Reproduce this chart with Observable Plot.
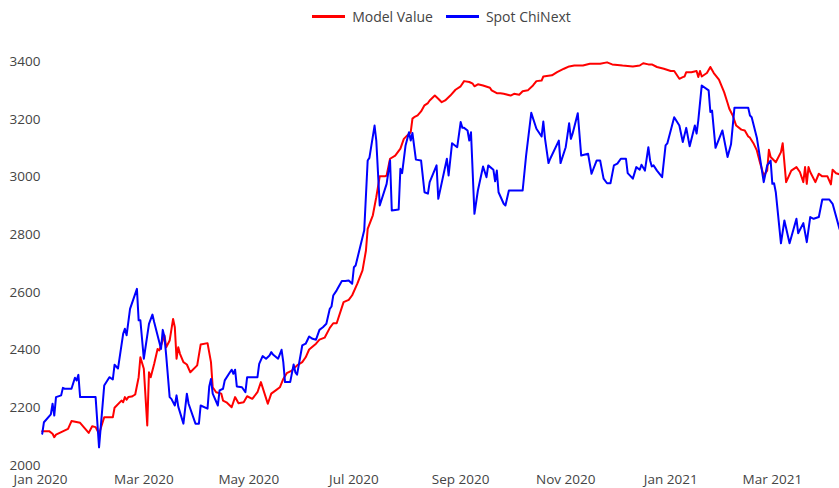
<!DOCTYPE html>
<html><head><meta charset="utf-8">
<script src="https://cdn.jsdelivr.net/npm/d3@7"></script>
<script src="https://cdn.jsdelivr.net/npm/@observablehq/plot@0.6"></script>
<style>
body{margin:0;background:#fff;font-family:"Open Sans",sans-serif;}
#legend{box-sizing:border-box;height:32px;width:839px;padding-left:44px;display:flex;justify-content:center;align-items:center;font-size:14px;color:#444;}
.item{display:flex;align-items:center;margin:0 6.5px;}
.swatch{width:33px;height:3px;margin-right:7px;}
</style></head><body>
<div id="legend"></div>
<div id="chart"></div>
<script>
const seriesNames = ["Model Value", "Spot ChiNext"];
const seriesColors = ["#ff0000", "#0000ff"];
const xTickDates = ["2020-01-01","2020-03-01","2020-05-01","2020-07-01","2020-09-01","2020-11-01","2021-01-01","2021-03-01"];
const yTicks = [2000,2200,2400,2600,2800,3000,3200,3400];

const modelDates = ["2020-01-02","2020-01-06","2020-01-08","2020-01-09","2020-01-10","2020-01-17","2020-01-19","2020-01-24","2020-01-27","2020-01-29","2020-01-31","2020-02-02","2020-02-04","2020-02-07","2020-02-12","2020-02-13","2020-02-17","2020-02-18","2020-02-19","2020-02-20","2020-02-21","2020-02-23","2020-02-25","2020-02-27","2020-02-28","2020-03-01","2020-03-03","2020-03-04","2020-03-05","2020-03-07","2020-03-09","2020-03-10","2020-03-13","2020-03-14","2020-03-16","2020-03-18","2020-03-19","2020-03-20","2020-03-21","2020-03-22","2020-03-24","2020-03-26","2020-03-28","2020-04-01","2020-04-03","2020-04-07","2020-04-09","2020-04-10","2020-04-12","2020-04-15","2020-04-16","2020-04-18","2020-04-21","2020-04-23","2020-04-25","2020-04-28","2020-04-30","2020-05-03","2020-05-06","2020-05-08","2020-05-12","2020-05-14","2020-05-17","2020-05-19","2020-05-21","2020-05-23","2020-05-26","2020-05-29","2020-06-01","2020-06-03","2020-06-05","2020-06-09","2020-06-11","2020-06-14","2020-06-17","2020-06-19","2020-06-21","2020-06-25","2020-06-28","2020-06-30","2020-07-03","2020-07-06","2020-07-08","2020-07-09","2020-07-12","2020-07-14","2020-07-16","2020-07-19","2020-07-20","2020-07-22","2020-07-25","2020-07-28","2020-07-30","2020-08-01","2020-08-03","2020-08-04","2020-08-05","2020-08-07","2020-08-09","2020-08-11","2020-08-13","2020-08-14","2020-08-17","2020-08-19","2020-08-21","2020-08-23","2020-08-26","2020-08-29","2020-09-01","2020-09-03","2020-09-06","2020-09-08","2020-09-09","2020-09-11","2020-09-14","2020-09-18","2020-09-19","2020-09-22","2020-09-24","2020-09-26","2020-09-30","2020-10-02","2020-10-05","2020-10-07","2020-10-10","2020-10-13","2020-10-15","2020-10-18","2020-10-19","2020-10-24","2020-10-27","2020-10-31","2020-11-03","2020-11-06","2020-11-11","2020-11-15","2020-11-21","2020-11-25","2020-11-28","2020-12-04","2020-12-10","2020-12-14","2020-12-16","2020-12-19","2020-12-21","2020-12-24","2020-12-28","2021-01-01","2021-01-03","2021-01-06","2021-01-08","2021-01-09","2021-01-10","2021-01-13","2021-01-16","2021-01-17","2021-01-18","2021-01-19","2021-01-22","2021-01-24","2021-01-26","2021-01-29","2021-02-01","2021-02-03","2021-02-04","2021-02-06","2021-02-08","2021-02-11","2021-02-13","2021-02-15","2021-02-16","2021-02-18","2021-02-20","2021-02-22","2021-02-24","2021-02-26","2021-02-27","2021-02-28","2021-03-03","2021-03-06","2021-03-07","2021-03-09","2021-03-12","2021-03-15","2021-03-17","2021-03-19","2021-03-20","2021-03-21","2021-03-22","2021-03-23","2021-03-26","2021-03-28","2021-03-30","2021-04-02","2021-04-04","2021-04-05","2021-04-07","2021-04-09"];
const modelValues = [2119,2119,2110,2098,2107,2127,2154,2148,2127,2113,2136,2133,2110,2167,2167,2200,2225,2219,2237,2228,2237,2239,2246,2306,2375,2335,2139,2323,2306,2352,2404,2399,2451,2410,2433,2508,2479,2370,2410,2387,2358,2350,2323,2347,2419,2424,2358,2271,2254,2249,2225,2219,2202,2237,2216,2219,2240,2231,2254,2289,2214,2249,2262,2271,2300,2320,2329,2347,2358,2375,2402,2422,2436,2443,2477,2493,2493,2566,2574,2590,2630,2676,2745,2820,2867,2930,3002,3002,3005,3063,3074,3098,3132,3144,3155,3202,3207,3213,3227,3248,3256,3265,3282,3271,3259,3265,3282,3302,3314,3332,3329,3323,3314,3321,3317,3309,3300,3290,3290,3288,3282,3288,3285,3297,3300,3317,3332,3334,3348,3352,3363,3375,3383,3386,3386,3392,3392,3397,3390,3386,3383,3386,3394,3390,3390,3381,3375,3367,3367,3340,3346,3348,3363,3363,3367,3346,3367,3348,3360,3381,3360,3337,3294,3256,3236,3213,3178,3164,3161,3140,3136,3117,3092,3046,3005,3022,3094,3069,3051,3086,3117,2982,3022,3034,3017,2982,3034,2976,3034,3017,2982,3011,3002,3002,2974,3025,3013,3009];

const spotDates = ["2020-01-02","2020-01-03","2020-01-07","2020-01-08","2020-01-09","2020-01-10","2020-01-13","2020-01-14","2020-01-15","2020-01-19","2020-01-21","2020-01-22","2020-01-23","2020-01-24","2020-02-02","2020-02-04","2020-02-07","2020-02-10","2020-02-12","2020-02-13","2020-02-15","2020-02-18","2020-02-19","2020-02-20","2020-02-22","2020-02-26","2020-02-27","2020-02-28","2020-03-01","2020-03-04","2020-03-06","2020-03-07","2020-03-11","2020-03-12","2020-03-13","2020-03-14","2020-03-16","2020-03-17","2020-03-19","2020-03-20","2020-03-21","2020-03-24","2020-03-26","2020-03-27","2020-03-31","2020-04-02","2020-04-03","2020-04-07","2020-04-08","2020-04-09","2020-04-10","2020-04-13","2020-04-14","2020-04-16","2020-04-17","2020-04-20","2020-04-21","2020-04-22","2020-04-23","2020-04-24","2020-04-27","2020-04-29","2020-04-30","2020-05-06","2020-05-07","2020-05-09","2020-05-11","2020-05-13","2020-05-14","2020-05-15","2020-05-18","2020-05-20","2020-05-21","2020-05-22","2020-05-25","2020-05-27","2020-05-28","2020-05-29","2020-06-01","2020-06-03","2020-06-05","2020-06-07","2020-06-09","2020-06-11","2020-06-13","2020-06-15","2020-06-17","2020-06-18","2020-06-19","2020-06-21","2020-06-24","2020-06-26","2020-06-28","2020-06-30","2020-07-01","2020-07-02","2020-07-07","2020-07-09","2020-07-10","2020-07-13","2020-07-14","2020-07-16","2020-07-20","2020-07-22","2020-07-23","2020-07-27","2020-07-28","2020-07-29","2020-07-31","2020-08-02","2020-08-03","2020-08-04","2020-08-06","2020-08-09","2020-08-11","2020-08-13","2020-08-14","2020-08-18","2020-08-19","2020-08-24","2020-08-25","2020-08-27","2020-08-30","2020-09-01","2020-09-02","2020-09-03","2020-09-05","2020-09-06","2020-09-07","2020-09-09","2020-09-11","2020-09-14","2020-09-16","2020-09-17","2020-09-20","2020-09-21","2020-09-22","2020-09-23","2020-09-26","2020-09-27","2020-09-29","2020-10-07","2020-10-09","2020-10-12","2020-10-15","2020-10-18","2020-10-19","2020-10-20","2020-10-22","2020-10-23","2020-10-28","2020-10-29","2020-11-01","2020-11-02","2020-11-03","2020-11-04","2020-11-05","2020-11-08","2020-11-10","2020-11-14","2020-11-16","2020-11-19","2020-11-21","2020-11-23","2020-11-25","2020-11-27","2020-11-29","2020-12-01","2020-12-03","2020-12-06","2020-12-07","2020-12-10","2020-12-12","2020-12-14","2020-12-15","2020-12-17","2020-12-19","2020-12-20","2020-12-21","2020-12-22","2020-12-24","2020-12-27","2020-12-29","2020-12-30","2021-01-03","2021-01-06","2021-01-08","2021-01-10","2021-01-12","2021-01-15","2021-01-16","2021-01-17","2021-01-19","2021-01-23","2021-01-24","2021-01-25","2021-01-27","2021-01-31","2021-02-03","2021-02-05","2021-02-07","2021-02-15","2021-02-16","2021-02-17","2021-02-20","2021-02-24","2021-02-26","2021-02-28","2021-03-01","2021-03-02","2021-03-03","2021-03-06","2021-03-08","2021-03-11","2021-03-15","2021-03-16","2021-03-19","2021-03-21","2021-03-23","2021-03-25","2021-03-28","2021-03-30","2021-04-03","2021-04-05","2021-04-09"];
const spotValues = [2110,2150,2177,2214,2173,2237,2243,2269,2266,2266,2304,2295,2314,2237,2237,2063,2277,2306,2298,2349,2336,2456,2474,2451,2543,2612,2503,2503,2370,2491,2523,2497,2404,2470,2445,2381,2237,2231,2208,2243,2204,2145,2249,2214,2145,2145,2208,2197,2274,2300,2249,2208,2260,2266,2295,2323,2332,2318,2332,2274,2271,2254,2306,2306,2352,2379,2370,2381,2393,2385,2370,2401,2358,2289,2289,2350,2323,2315,2416,2422,2447,2439,2436,2470,2479,2491,2543,2551,2589,2607,2639,2639,2641,2630,2687,2693,2815,3057,3066,3178,3126,2901,2976,3057,2884,2887,3028,3013,3109,3155,3126,3152,3060,3057,2947,2942,2982,3040,2924,3063,3005,3117,3103,3190,3170,3170,3161,3126,3155,2872,2953,3036,2999,3040,3025,2985,3022,2947,2907,2901,2953,2953,3074,3222,3167,3140,3192,3132,3048,3063,3126,3048,3103,3144,3186,3132,3150,3221,3074,3080,3011,3057,3057,2994,2978,2978,3040,3046,3063,3063,3013,2994,3034,3025,3042,3022,3103,3057,3036,3040,3022,2999,3109,3116,3207,3178,3121,3170,3106,3178,3150,3196,3317,3300,3225,3230,3101,3161,3069,3113,3240,3240,3213,3207,3136,2982,3040,3057,2976,2978,2947,2770,2849,2770,2855,2805,2840,2774,2861,2855,2861,2922,2922,2907,2820];

const parse = d3.utcParse("%Y-%m-%d");
const model = modelDates.map((d, i) => ({date: parse(d), value: modelValues[i]}));
const spot = spotDates.map((d, i) => ({date: parse(d), value: spotValues[i]}));

// legend
const legend = document.getElementById("legend");
seriesNames.forEach((name, i) => {
  const item = document.createElement("div");
  item.className = "item";
  const sw = document.createElement("span");
  sw.className = "swatch";
  sw.style.background = seriesColors[i];
  const tx = document.createElement("span");
  tx.textContent = name;
  item.appendChild(sw); item.appendChild(tx);
  legend.appendChild(item);
});

const chart = Plot.plot({
  width: 839,
  height: 456,
  marginLeft: 40,
  marginRight: 0,
  marginTop: 29,
  marginBottom: 23,
  style: {fontFamily: '"Open Sans", sans-serif', fontSize: "13.5px", color: "#444", background: "white", overflow: "visible"},
  x: {type: "utc", domain: [parse("2020-01-01"), parse("2021-04-09")]},
  y: {domain: [2000, 3400]},
  marks: [
    Plot.axisX({ticks: xTickDates.map(parse), tickFormat: d3.utcFormat("%b %Y"), tickSize: 0, tickPadding: 9, label: null}),
    Plot.axisY({ticks: yTicks, tickFormat: d3.format("d"), tickSize: 0, tickPadding: 0, label: null}),
    Plot.line(model, {x: "date", y: "value", stroke: seriesColors[0], strokeWidth: 2}),
    Plot.line(spot, {x: "date", y: "value", stroke: seriesColors[1], strokeWidth: 2})
  ]
});
document.getElementById("chart").appendChild(chart);
</script>
</body></html>
